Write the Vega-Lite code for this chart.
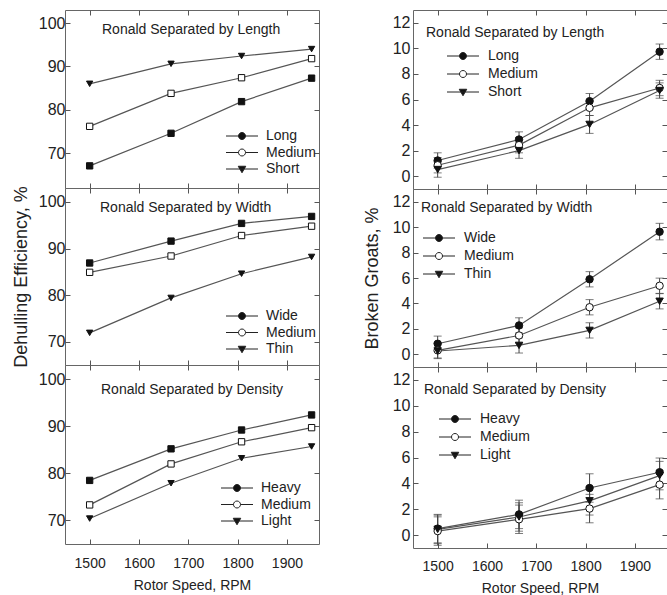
{
"$schema":"https://vega.github.io/schema/vega-lite/v6.json",
"padding":{"left":11,"top":9,"right":0,"bottom":0},
"datasets":{
"eff":[
{"p":"L","c":"Long","x":1500,"v":67.1},{"p":"L","c":"Long","x":1665,"v":74.6},{"p":"L","c":"Long","x":1808,"v":81.9},{"p":"L","c":"Long","x":1950,"v":87.3},
{"p":"L","c":"Medium","x":1500,"v":76.2},{"p":"L","c":"Medium","x":1665,"v":83.8},{"p":"L","c":"Medium","x":1808,"v":87.4},{"p":"L","c":"Medium","x":1950,"v":91.8},
{"p":"L","c":"Short","x":1500,"v":86.0},{"p":"L","c":"Short","x":1665,"v":90.6},{"p":"L","c":"Short","x":1808,"v":92.4},{"p":"L","c":"Short","x":1950,"v":94.0},
{"p":"W","c":"Wide","x":1500,"v":86.9},{"p":"W","c":"Wide","x":1665,"v":91.6},{"p":"W","c":"Wide","x":1808,"v":95.4},{"p":"W","c":"Wide","x":1950,"v":96.9},
{"p":"W","c":"Medium","x":1500,"v":84.9},{"p":"W","c":"Medium","x":1665,"v":88.4},{"p":"W","c":"Medium","x":1808,"v":92.8},{"p":"W","c":"Medium","x":1950,"v":94.8},
{"p":"W","c":"Thin","x":1500,"v":71.9},{"p":"W","c":"Thin","x":1665,"v":79.4},{"p":"W","c":"Thin","x":1808,"v":84.6},{"p":"W","c":"Thin","x":1950,"v":88.2},
{"p":"D","c":"Heavy","x":1500,"v":78.5},{"p":"D","c":"Heavy","x":1665,"v":85.2},{"p":"D","c":"Heavy","x":1808,"v":89.2},{"p":"D","c":"Heavy","x":1950,"v":92.4},
{"p":"D","c":"Medium","x":1500,"v":73.3},{"p":"D","c":"Medium","x":1665,"v":82.0},{"p":"D","c":"Medium","x":1808,"v":86.7},{"p":"D","c":"Medium","x":1950,"v":89.7},
{"p":"D","c":"Light","x":1500,"v":70.4},{"p":"D","c":"Light","x":1665,"v":77.9},{"p":"D","c":"Light","x":1808,"v":83.2},{"p":"D","c":"Light","x":1950,"v":85.7}
],
"bg":[
{"p":"L","c":"Long","x":1500,"v":1.23,"lo":0.63,"hi":1.83},{"p":"L","c":"Long","x":1665,"v":2.87,"lo":2.27,"hi":3.47},{"p":"L","c":"Long","x":1808,"v":5.87,"lo":5.27,"hi":6.47},{"p":"L","c":"Long","x":1950,"v":9.74,"lo":9.14,"hi":10.34},
{"p":"L","c":"Medium","x":1500,"v":0.86,"lo":0.26,"hi":1.46},{"p":"L","c":"Medium","x":1665,"v":2.43,"lo":1.83,"hi":3.03},{"p":"L","c":"Medium","x":1808,"v":5.35,"lo":4.75,"hi":5.95},{"p":"L","c":"Medium","x":1950,"v":6.9,"lo":6.3,"hi":7.5},
{"p":"L","c":"Short","x":1500,"v":0.52,"lo":-0.08,"hi":1.12},{"p":"L","c":"Short","x":1665,"v":2.0,"lo":1.4,"hi":2.6},{"p":"L","c":"Short","x":1808,"v":4.05,"lo":3.35,"hi":4.75},{"p":"L","c":"Short","x":1950,"v":6.7,"lo":6.1,"hi":7.3},
{"p":"W","c":"Wide","x":1500,"v":0.83,"lo":0.23,"hi":1.43},{"p":"W","c":"Wide","x":1665,"v":2.27,"lo":1.67,"hi":2.87},{"p":"W","c":"Wide","x":1808,"v":5.9,"lo":5.3,"hi":6.5},{"p":"W","c":"Wide","x":1950,"v":9.64,"lo":9.0,"hi":10.3},
{"p":"W","c":"Medium","x":1500,"v":0.31,"lo":-0.29,"hi":0.91},{"p":"W","c":"Medium","x":1665,"v":1.48,"lo":0.88,"hi":2.08},{"p":"W","c":"Medium","x":1808,"v":3.7,"lo":3.1,"hi":4.3},{"p":"W","c":"Medium","x":1950,"v":5.39,"lo":4.79,"hi":5.99},
{"p":"W","c":"Thin","x":1500,"v":0.26,"lo":-0.34,"hi":0.86},{"p":"W","c":"Thin","x":1665,"v":0.7,"lo":0.1,"hi":1.3},{"p":"W","c":"Thin","x":1808,"v":1.88,"lo":1.28,"hi":2.48},{"p":"W","c":"Thin","x":1950,"v":4.17,"lo":3.57,"hi":4.77},
{"p":"D","c":"Heavy","x":1500,"v":0.5,"lo":-0.6,"hi":1.6},{"p":"D","c":"Heavy","x":1665,"v":1.6,"lo":0.5,"hi":2.7},{"p":"D","c":"Heavy","x":1808,"v":3.64,"lo":2.54,"hi":4.74},{"p":"D","c":"Heavy","x":1950,"v":4.86,"lo":3.76,"hi":5.96},
{"p":"D","c":"Medium","x":1500,"v":0.31,"lo":-0.79,"hi":1.41},{"p":"D","c":"Medium","x":1665,"v":1.22,"lo":0.12,"hi":2.32},{"p":"D","c":"Medium","x":1808,"v":2.05,"lo":0.95,"hi":3.15},{"p":"D","c":"Medium","x":1950,"v":3.9,"lo":2.8,"hi":5.0},
{"p":"D","c":"Light","x":1500,"v":0.44,"lo":-0.66,"hi":1.54},{"p":"D","c":"Light","x":1665,"v":1.4,"lo":0.3,"hi":2.5},{"p":"D","c":"Light","x":1808,"v":2.65,"lo":1.55,"hi":3.75},{"p":"D","c":"Light","x":1950,"v":4.6,"lo":3.5,"hi":5.7}
]
},
"hconcat":[
{"vconcat":[
{"width":254,"height":178,"data":{"name":"eff"},"transform":[{"filter":"datum.p==='L'"}],
"title":{"text":"Ronald Separated by Length","anchor":"start","frame":"group","dx":37,"offset":-27,"baseline":"top"},
"layer":[
{"mark":{"type":"line","color":"#555","strokeWidth":1.2},"encoding":{
"x":{"field":"x","type":"quantitative","scale":{"domain":[1450,1965],"nice":false,"zero":false},"axis":{"orient":"bottom","values":[1500,1600,1700,1800,1900],"labels":false,"title":null}},
"y":{"field":"v","type":"quantitative","scale":{"domain":[62,103],"nice":false,"zero":false},"axis":{"orient":"left","values":[70,80,90,100],"title":null,"labelFontSize":16,"labelPadding":5}},
"detail":{"field":"c"}}},
{"mark":{"type":"point","filled":true,"stroke":"#111","strokeWidth":1,"size":40,"opacity":1},"encoding":{
"x":{"field":"x","type":"quantitative","axis":{"orient":"top","values":[1500,1600,1700,1800,1900],"labels":false,"title":null}},
"y":{"field":"v","type":"quantitative","axis":{"orient":"right","values":[70,80,90,100],"labels":false,"title":null}},
"shape":{"condition":{"test":"indexof(['Short','Thin','Light'], datum.c) >= 0","value":"triangle-down"},"value":"square"},
"fill":{"condition":{"test":"datum.c === 'Medium'","value":"white"},"value":"#111"}}},
{"mark":{"type":"point","filled":true,"stroke":"#222","strokeWidth":1,"size":1,"opacity":0,"clip":true},"encoding":{
"x":{"field":"x","type":"quantitative","axis":null},
"y":{"field":"v","type":"quantitative","axis":null},
"shape":{"field":"c","type":"nominal","scale":{"domain":["Long","Medium","Short"],"range":["M-3.2,0H-0.7M0.7,0H3.2M0.7,0A0.7,0.7,0,1,1,-0.7,0A0.7,0.7,0,1,1,0.7,0Z","M-3.2,0H-0.7M0.7,0H3.2M0.7,0A0.7,0.7,0,1,1,-0.7,0A0.7,0.7,0,1,1,0.7,0Z","M-3.2,0H3.2M-0.75,-0.55H0.75L0,0.75Z"]},
"legend":{"orient":"none","legendX":170,"legendY":119,"title":null,"labelFontSize":14,"labelColor":"#222","symbolSize":100,"symbolStrokeWidth":1,"symbolOpacity":1,"padding":0,"rowPadding":2.5,"labelOffset":17}},
"fill":{"field":"c","type":"nominal","scale":{"domain":["Long","Medium","Short"],"range":["#111","white","#111"]},
"legend":{"orient":"none","legendX":170,"legendY":119,"title":null,"labelFontSize":14,"labelColor":"#222","symbolSize":100,"symbolStrokeWidth":1,"symbolOpacity":1,"padding":0,"rowPadding":2.5,"labelOffset":17}}}}
],"resolve":{"axis":{"x":"independent","y":"independent"}}},
{"width":254,"height":177,"data":{"name":"eff"},"transform":[{"filter":"datum.p==='W'"}],
"title":{"text":"Ronald Separated by Width","anchor":"start","frame":"group","dx":35,"offset":-29,"baseline":"top"},
"layer":[
{"mark":{"type":"line","color":"#555","strokeWidth":1.2},"encoding":{
"x":{"field":"x","type":"quantitative","scale":{"domain":[1450,1965],"nice":false,"zero":false},"axis":{"orient":"bottom","values":[1500,1600,1700,1800,1900],"labels":false,"title":null}},
"y":{"field":"v","type":"quantitative","scale":{"domain":[65,103],"nice":false,"zero":false},"axis":{"orient":"left","values":[70,80,90,100],"title":"Dehulling Efficiency, %","titleFontSize":18,"titlePadding":8,"labelFontSize":16,"labelPadding":5}},
"detail":{"field":"c"}}},
{"mark":{"type":"point","filled":true,"stroke":"#111","strokeWidth":1,"size":40,"opacity":1},"encoding":{
"x":{"field":"x","type":"quantitative","axis":{"orient":"top","values":[1500,1600,1700,1800,1900],"labels":false,"title":null}},
"y":{"field":"v","type":"quantitative","axis":{"orient":"right","values":[70,80,90,100],"labels":false,"title":null}},
"shape":{"condition":{"test":"indexof(['Short','Thin','Light'], datum.c) >= 0","value":"triangle-down"},"value":"square"},
"fill":{"condition":{"test":"datum.c === 'Medium'","value":"white"},"value":"#111"}}},
{"mark":{"type":"point","filled":true,"stroke":"#222","strokeWidth":1,"size":1,"opacity":0,"clip":true},"encoding":{
"x":{"field":"x","type":"quantitative","axis":null},
"y":{"field":"v","type":"quantitative","axis":null},
"shape":{"field":"c","type":"nominal","scale":{"domain":["Wide","Medium","Thin"],"range":["M-3.2,0H-0.7M0.7,0H3.2M0.7,0A0.7,0.7,0,1,1,-0.7,0A0.7,0.7,0,1,1,0.7,0Z","M-3.2,0H-0.7M0.7,0H3.2M0.7,0A0.7,0.7,0,1,1,-0.7,0A0.7,0.7,0,1,1,0.7,0Z","M-3.2,0H3.2M-0.75,-0.55H0.75L0,0.75Z"]},
"legend":{"orient":"none","legendX":170,"legendY":121,"title":null,"labelFontSize":14,"labelColor":"#222","symbolSize":100,"symbolStrokeWidth":1,"symbolOpacity":1,"padding":0,"rowPadding":2.5,"labelOffset":17}},
"fill":{"field":"c","type":"nominal","scale":{"domain":["Wide","Medium","Thin"],"range":["#111","white","#111"]},
"legend":{"orient":"none","legendX":170,"legendY":121,"title":null,"labelFontSize":14,"labelColor":"#222","symbolSize":100,"symbolStrokeWidth":1,"symbolOpacity":1,"padding":0,"rowPadding":2.5,"labelOffset":17}}}}
],"resolve":{"axis":{"x":"independent","y":"independent"}}},
{"width":254,"height":179,"data":{"name":"eff"},"transform":[{"filter":"datum.p==='D'"}],
"title":{"text":"Ronald Separated by Density","anchor":"start","frame":"group","dx":36,"offset":-32,"baseline":"top"},
"layer":[
{"mark":{"type":"line","color":"#555","strokeWidth":1.2},"encoding":{
"x":{"field":"x","type":"quantitative","scale":{"domain":[1450,1965],"nice":false,"zero":false},"axis":{"orient":"bottom","values":[1500,1600,1700,1800,1900],"format":"d","labelPadding":17,"titlePadding":8,"title":"Rotor Speed, RPM"}},
"y":{"field":"v","type":"quantitative","scale":{"domain":[65,103],"nice":false,"zero":false},"axis":{"orient":"left","values":[70,80,90,100],"title":null,"labelFontSize":16,"labelPadding":5}},
"detail":{"field":"c"}}},
{"mark":{"type":"point","filled":true,"stroke":"#111","strokeWidth":1,"size":40,"opacity":1},"encoding":{
"x":{"field":"x","type":"quantitative","axis":{"orient":"top","values":[1500,1600,1700,1800,1900],"labels":false,"title":null}},
"y":{"field":"v","type":"quantitative","axis":{"orient":"right","values":[70,80,90,100],"labels":false,"title":null}},
"shape":{"condition":{"test":"indexof(['Short','Thin','Light'], datum.c) >= 0","value":"triangle-down"},"value":"square"},
"fill":{"condition":{"test":"datum.c === 'Medium'","value":"white"},"value":"#111"}}},
{"mark":{"type":"point","filled":true,"stroke":"#222","strokeWidth":1,"size":1,"opacity":0,"clip":true},"encoding":{
"x":{"field":"x","type":"quantitative","axis":null},
"y":{"field":"v","type":"quantitative","axis":null},
"shape":{"field":"c","type":"nominal","scale":{"domain":["Heavy","Medium","Light"],"range":["M-3.2,0H-0.7M0.7,0H3.2M0.7,0A0.7,0.7,0,1,1,-0.7,0A0.7,0.7,0,1,1,0.7,0Z","M-3.2,0H-0.7M0.7,0H3.2M0.7,0A0.7,0.7,0,1,1,-0.7,0A0.7,0.7,0,1,1,0.7,0Z","M-3.2,0H3.2M-0.75,-0.55H0.75L0,0.75Z"]},
"legend":{"orient":"none","legendX":165,"legendY":116,"title":null,"labelFontSize":14,"labelColor":"#222","symbolSize":100,"symbolStrokeWidth":1,"symbolOpacity":1,"padding":0,"rowPadding":2.5,"labelOffset":17}},
"fill":{"field":"c","type":"nominal","scale":{"domain":["Heavy","Medium","Light"],"range":["#111","white","#111"]},
"legend":{"orient":"none","legendX":165,"legendY":116,"title":null,"labelFontSize":14,"labelColor":"#222","symbolSize":100,"symbolStrokeWidth":1,"symbolOpacity":1,"padding":0,"rowPadding":2.5,"labelOffset":17}}}}
],"resolve":{"axis":{"x":"independent","y":"independent"}}}
],"spacing":0,"bounds":"flush",
"resolve":{"scale":{"x":"independent","y":"independent","shape":"independent","fill":"independent"},"legend":{"shape":"independent","fill":"independent"}}},
{"vconcat":[
{"width":254,"height":179,"data":{"name":"bg"},"transform":[{"filter":"datum.p==='L'"}],
"title":{"text":"Ronald Separated by Length","anchor":"start","frame":"group","dx":13,"offset":-30,"baseline":"top"},
"layer":[
{"mark":{"type":"line","color":"#555","strokeWidth":1.2},"encoding":{
"x":{"field":"x","type":"quantitative","scale":{"domain":[1450,1965],"nice":false,"zero":false},"axis":{"orient":"bottom","values":[1500,1600,1700,1800,1900],"labels":false,"title":null}},
"y":{"field":"v","type":"quantitative","scale":{"domain":[-1,13],"nice":false,"zero":false},"axis":{"orient":"left","values":[0,2,4,6,8,10,12],"title":null,"labelFontSize":16,"labelPadding":8}},
"detail":{"field":"c"}}},
{"mark":{"type":"errorbar","ticks":{"color":"#444"},"rule":{"color":"#444"},"size":8,"thickness":1},"encoding":{
"x":{"field":"x","type":"quantitative","axis":null},
"y":{"field":"lo","type":"quantitative","axis":null},"y2":{"field":"hi"},"detail":{"field":"c"}}},
{"mark":{"type":"point","filled":true,"stroke":"#111","strokeWidth":1,"size":55,"opacity":1},"encoding":{
"x":{"field":"x","type":"quantitative","axis":{"orient":"top","values":[1500,1600,1700,1800,1900],"labels":false,"title":null}},
"y":{"field":"v","type":"quantitative","axis":{"orient":"right","values":[0,2,4,6,8,10,12],"labels":false,"title":null}},
"shape":{"condition":{"test":"indexof(['Short','Thin','Light'], datum.c) >= 0","value":"triangle-down"},"value":"circle"},
"fill":{"condition":{"test":"datum.c === 'Medium'","value":"white"},"value":"#111"}}},
{"mark":{"type":"point","filled":true,"stroke":"#222","strokeWidth":1,"size":1,"opacity":0,"clip":true},"encoding":{
"x":{"field":"x","type":"quantitative","axis":null},
"y":{"field":"v","type":"quantitative","axis":null},
"shape":{"field":"c","type":"nominal","scale":{"domain":["Long","Medium","Short"],"range":["M-3.2,0H-0.7M0.7,0H3.2M0.7,0A0.7,0.7,0,1,1,-0.7,0A0.7,0.7,0,1,1,0.7,0Z","M-3.2,0H-0.7M0.7,0H3.2M0.7,0A0.7,0.7,0,1,1,-0.7,0A0.7,0.7,0,1,1,0.7,0Z","M-3.2,0H3.2M-0.75,-0.55H0.75L0,0.75Z"]},
"legend":{"orient":"none","legendX":43,"legendY":39,"title":null,"labelFontSize":14,"labelColor":"#222","symbolSize":100,"symbolStrokeWidth":1,"symbolOpacity":1,"padding":0,"rowPadding":4,"labelOffset":18}},
"fill":{"field":"c","type":"nominal","scale":{"domain":["Long","Medium","Short"],"range":["#111","white","#111"]},
"legend":{"orient":"none","legendX":43,"legendY":39,"title":null,"labelFontSize":14,"labelColor":"#222","symbolSize":100,"symbolStrokeWidth":1,"symbolOpacity":1,"padding":0,"rowPadding":4,"labelOffset":18}}}}
],"resolve":{"axis":{"x":"independent","y":"independent"}}},
{"width":254,"height":178,"data":{"name":"bg"},"transform":[{"filter":"datum.p==='W'"}],
"title":{"text":"Ronald Separated by Width","anchor":"start","frame":"group","dx":8,"offset":-26,"baseline":"top"},
"layer":[
{"mark":{"type":"line","color":"#555","strokeWidth":1.2},"encoding":{
"x":{"field":"x","type":"quantitative","scale":{"domain":[1450,1965],"nice":false,"zero":false},"axis":{"orient":"bottom","values":[1500,1600,1700,1800,1900],"labels":false,"title":null}},
"y":{"field":"v","type":"quantitative","scale":{"domain":[-1,13],"nice":false,"zero":false},"axis":{"orient":"left","values":[0,2,4,6,8,10,12],"title":"Broken Groats, %","titleFontSize":18,"titlePadding":11,"labelFontSize":16,"labelPadding":8}},
"detail":{"field":"c"}}},
{"mark":{"type":"errorbar","ticks":{"color":"#444"},"rule":{"color":"#444"},"size":8,"thickness":1},"encoding":{
"x":{"field":"x","type":"quantitative","axis":null},
"y":{"field":"lo","type":"quantitative","axis":null},"y2":{"field":"hi"},"detail":{"field":"c"}}},
{"mark":{"type":"point","filled":true,"stroke":"#111","strokeWidth":1,"size":55,"opacity":1},"encoding":{
"x":{"field":"x","type":"quantitative","axis":{"orient":"top","values":[1500,1600,1700,1800,1900],"labels":false,"title":null}},
"y":{"field":"v","type":"quantitative","axis":{"orient":"right","values":[0,2,4,6,8,10,12],"labels":false,"title":null}},
"shape":{"condition":{"test":"indexof(['Short','Thin','Light'], datum.c) >= 0","value":"triangle-down"},"value":"circle"},
"fill":{"condition":{"test":"datum.c === 'Medium'","value":"white"},"value":"#111"}}},
{"mark":{"type":"point","filled":true,"stroke":"#222","strokeWidth":1,"size":1,"opacity":0,"clip":true},"encoding":{
"x":{"field":"x","type":"quantitative","axis":null},
"y":{"field":"v","type":"quantitative","axis":null},
"shape":{"field":"c","type":"nominal","scale":{"domain":["Wide","Medium","Thin"],"range":["M-3.2,0H-0.7M0.7,0H3.2M0.7,0A0.7,0.7,0,1,1,-0.7,0A0.7,0.7,0,1,1,0.7,0Z","M-3.2,0H-0.7M0.7,0H3.2M0.7,0A0.7,0.7,0,1,1,-0.7,0A0.7,0.7,0,1,1,0.7,0Z","M-3.2,0H3.2M-0.75,-0.55H0.75L0,0.75Z"]},
"legend":{"orient":"none","legendX":19,"legendY":42,"title":null,"labelFontSize":14,"labelColor":"#222","symbolSize":100,"symbolStrokeWidth":1,"symbolOpacity":1,"padding":0,"rowPadding":4,"labelOffset":18}},
"fill":{"field":"c","type":"nominal","scale":{"domain":["Wide","Medium","Thin"],"range":["#111","white","#111"]},
"legend":{"orient":"none","legendX":19,"legendY":42,"title":null,"labelFontSize":14,"labelColor":"#222","symbolSize":100,"symbolStrokeWidth":1,"symbolOpacity":1,"padding":0,"rowPadding":4,"labelOffset":18}}}}
],"resolve":{"axis":{"x":"independent","y":"independent"}}},
{"width":254,"height":181,"data":{"name":"bg"},"transform":[{"filter":"datum.p==='D'"}],
"title":{"text":"Ronald Separated by Density","anchor":"start","frame":"group","dx":11,"offset":-30,"baseline":"top"},
"layer":[
{"mark":{"type":"line","color":"#555","strokeWidth":1.2},"encoding":{
"x":{"field":"x","type":"quantitative","scale":{"domain":[1450,1965],"nice":false,"zero":false},"axis":{"orient":"bottom","values":[1500,1600,1700,1800,1900],"format":"d","labelPadding":16,"titlePadding":8,"title":"Rotor Speed, RPM"}},
"y":{"field":"v","type":"quantitative","scale":{"domain":[-1,13],"nice":false,"zero":false},"axis":{"orient":"left","values":[0,2,4,6,8,10,12],"title":null,"labelFontSize":16,"labelPadding":8}},
"detail":{"field":"c"}}},
{"mark":{"type":"errorbar","ticks":{"color":"#444"},"rule":{"color":"#444"},"size":8,"thickness":1},"encoding":{
"x":{"field":"x","type":"quantitative","axis":null},
"y":{"field":"lo","type":"quantitative","axis":null},"y2":{"field":"hi"},"detail":{"field":"c"}}},
{"mark":{"type":"point","filled":true,"stroke":"#111","strokeWidth":1,"size":55,"opacity":1},"encoding":{
"x":{"field":"x","type":"quantitative","axis":{"orient":"top","values":[1500,1600,1700,1800,1900],"labels":false,"title":null}},
"y":{"field":"v","type":"quantitative","axis":{"orient":"right","values":[0,2,4,6,8,10,12],"labels":false,"title":null}},
"shape":{"condition":{"test":"indexof(['Short','Thin','Light'], datum.c) >= 0","value":"triangle-down"},"value":"circle"},
"fill":{"condition":{"test":"datum.c === 'Medium'","value":"white"},"value":"#111"}}},
{"mark":{"type":"point","filled":true,"stroke":"#222","strokeWidth":1,"size":1,"opacity":0,"clip":true},"encoding":{
"x":{"field":"x","type":"quantitative","axis":null},
"y":{"field":"v","type":"quantitative","axis":null},
"shape":{"field":"c","type":"nominal","scale":{"domain":["Heavy","Medium","Light"],"range":["M-3.2,0H-0.7M0.7,0H3.2M0.7,0A0.7,0.7,0,1,1,-0.7,0A0.7,0.7,0,1,1,0.7,0Z","M-3.2,0H-0.7M0.7,0H3.2M0.7,0A0.7,0.7,0,1,1,-0.7,0A0.7,0.7,0,1,1,0.7,0Z","M-3.2,0H3.2M-0.75,-0.55H0.75L0,0.75Z"]},
"legend":{"orient":"none","legendX":35,"legendY":45,"title":null,"labelFontSize":14,"labelColor":"#222","symbolSize":100,"symbolStrokeWidth":1,"symbolOpacity":1,"padding":0,"rowPadding":4,"labelOffset":18}},
"fill":{"field":"c","type":"nominal","scale":{"domain":["Heavy","Medium","Light"],"range":["#111","white","#111"]},
"legend":{"orient":"none","legendX":35,"legendY":45,"title":null,"labelFontSize":14,"labelColor":"#222","symbolSize":100,"symbolStrokeWidth":1,"symbolOpacity":1,"padding":0,"rowPadding":4,"labelOffset":18}}}}
],"resolve":{"axis":{"x":"independent","y":"independent"}}}
],"spacing":0,"bounds":"flush",
"resolve":{"scale":{"x":"independent","y":"independent","shape":"independent","fill":"independent"},"legend":{"shape":"independent","fill":"independent"}}}
],
"spacing":42,
"resolve":{"scale":{"x":"independent","y":"independent","shape":"independent","fill":"independent"},"legend":{"shape":"independent","fill":"independent"}},
"config":{
"font":"Liberation Sans",
"view":{"stroke":"#666","strokeWidth":1},
"title":{"fontSize":14,"fontWeight":"normal","color":"#222"},
"axis":{"domain":false,"grid":false,"tickSize":-5,"tickColor":"#555","labelFontSize":14,"labelColor":"#222","labelPadding":9,"titleFontSize":14,"titleFontWeight":"normal","titleColor":"#222"}
}
}
